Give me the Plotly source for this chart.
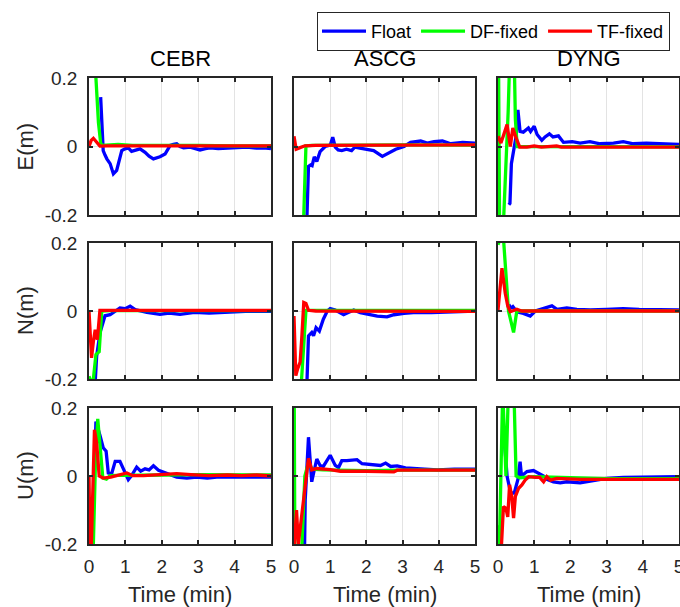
import plotly.graph_objects as go

# ---------------------------------------------------------------- data
stations = ["CEBR", "ASCG", "DYNG"]
components = ["E(m)", "N(m)", "U(m)"]
time_ticks = [0, 1, 2, 3, 4, 5]
pos_ticks = [-0.2, 0, 0.2]
pos_tick_text = ["-0.2", "0", "0.2"]

# East component -------------------------------------------------------
t_E_CEBR_float = [0.32, 0.36, 0.39, 0.44, 0.49, 0.58, 0.67, 0.76, 0.83, 0.90, 0.99, 1.08, 1.17, 1.28, 1.40,
                  1.54, 1.65, 1.77, 1.86, 1.95, 2.09, 2.23, 2.32, 2.41, 2.50, 2.60, 2.78, 2.92, 3.05, 3.20,
                  3.33, 3.55, 3.79, 4.05, 4.34, 4.60, 4.80, 5.00]
E_CEBR_float = [0.144, 0.02, -0.012, -0.025, -0.036, -0.05, -0.08, -0.07, -0.04, -0.012, -0.007, -0.004,
                -0.014, -0.01, -0.007, -0.017, -0.028, -0.036, -0.034, -0.03, -0.022, 0.003, 0.006, 0.008,
                0.0, -0.004, -0.002, -0.006, -0.01, -0.006, -0.004, -0.006, -0.005, -0.003, -0.002, -0.005,
                -0.004, -0.006]
t_E_CEBR_df = [0.12, 0.19, 0.26, 0.32, 0.36, 0.50, 0.80, 1.2, 2.0, 3.0, 4.0, 5.0]
E_CEBR_df = [0.60, 0.20, 0.07, 0.01, 0.003, 0.004, 0.006, 0.003, 0.002, 0.003, 0.002, 0.002]
t_E_CEBR_tf = [0, 0.06, 0.12, 0.20, 0.30, 0.5, 1, 2, 3, 4, 5]
E_CEBR_tf = [0.0, 0.018, 0.024, 0.012, 0.001, 0.002, 0.002, 0.003, 0.002, 0.003, 0.002]

t_E_ASCG_float = [0.33, 0.40, 0.46, 0.50, 0.56, 0.63, 0.72, 0.86, 1.0, 1.07, 1.14, 1.22, 1.32, 1.45, 1.59,
                  1.68, 1.82, 2.0, 2.2, 2.44, 2.63, 2.81, 3.04, 3.22, 3.50, 3.68, 3.87, 4.10, 4.33, 4.66, 5.0]
E_ASCG_float = [-0.3, -0.058, -0.054, -0.056, -0.03, -0.044, -0.015, 0.0, 0.004, 0.027, -0.002, -0.01,
                -0.012, -0.008, -0.012, -0.002, -0.005, -0.008, -0.012, -0.029, -0.018, -0.008, 0.0, 0.012,
                0.016, 0.01, 0.014, 0.016, 0.008, 0.012, 0.01]
t_E_ASCG_df = [0.18, 0.26, 0.30, 0.33, 0.5, 1, 2, 3, 4, 5]
E_ASCG_df = [-0.5, -0.2, -0.05, 0.002, 0.003, 0.004, 0.004, 0.005, 0.004, 0.004]
t_E_ASCG_tf = [0, 0.06, 0.15, 0.3, 0.6, 1, 2, 3, 4, 5]
E_ASCG_tf = [0.03, -0.008, -0.004, 0.002, 0.003, 0.003, 0.004, 0.005, 0.005, 0.005]

t_E_DYNG_float = [0.30, 0.33, 0.37, 0.45, 0.50, 0.55, 0.61, 0.70, 0.84, 0.90, 1.0, 1.08, 1.21, 1.30, 1.42,
                  1.52, 1.67, 1.81, 2.05, 2.27, 2.54, 2.82, 3.19, 3.46, 3.74, 4.1, 4.5, 5.0]
E_DYNG_float = [-0.17, -0.166, -0.05, 0.0, 0.03, 0.107, 0.044, 0.042, 0.054, 0.044, 0.059, 0.035, 0.018,
                0.028, 0.037, 0.028, 0.031, 0.012, 0.014, 0.01, 0.014, 0.008, 0.01, 0.014, 0.008, 0.01,
                0.008, 0.006]
t_E_DYNG_df = [0, 0.03, 0.06, 0.12, 0.2, 0.28, 0.35, 0.40, 0.44, 0.48, 0.53, 0.6, 1, 2, 3, 4, 5]
E_DYNG_df = [0.5, 0.0, -0.5, -0.3, -0.12, 0.1, 0.35, 0.45, 0.3, 0.08, 0.0, 0.0, 0.001, 0.0, -0.001, 0.0,
             -0.001]
t_E_DYNG_tf = [0, 0.08, 0.16, 0.25, 0.34, 0.41, 0.50, 0.60, 0.8, 1.0, 1.2, 1.62, 1.75, 2.5, 3.5, 5.0]
E_DYNG_tf = [0.03, 0.01, 0.035, 0.064, 0.0, 0.054, 0.025, -0.002, -0.002, 0.002, -0.002, 0.002, -0.002,
             -0.002, -0.002, -0.002]

# North component ------------------------------------------------------
t_N_CEBR_float = [0.17, 0.21, 0.30, 0.44, 0.58, 0.72, 0.85, 0.99, 1.13, 1.27, 1.59, 1.95, 2.2, 2.5, 2.9,
                  3.3, 3.8, 4.3, 5.0]
N_CEBR_float = [-0.21, -0.133, -0.065, -0.014, -0.011, 0.0, 0.009, 0.007, 0.014, 0.004, -0.004, -0.01,
                -0.006, -0.01, -0.004, -0.006, -0.004, -0.001, -0.001]
t_N_CEBR_df = [0, 0.06, 0.12, 0.19, 0.28, 0.35, 0.6, 1, 2, 3, 4, 5]
N_CEBR_df = [-0.192, -0.21, -0.2, -0.128, -0.12, 0.0, 0.001, 0.001, 0.001, 0.001, 0.001, 0.001]
t_N_CEBR_tf = [0, 0.07, 0.12, 0.17, 0.23, 0.30, 0.5, 1, 2, 3, 4, 5]
N_CEBR_tf = [0.0, -0.138, -0.09, -0.055, -0.084, 0.002, 0.002, 0.002, 0.002, 0.002, 0.002, 0.002]

t_N_ASCG_float = [0.33, 0.40, 0.49, 0.54, 0.61, 0.70, 0.81, 0.92, 1.0, 1.14, 1.37, 1.65, 1.83, 2.02, 2.3,
                  2.57, 2.76, 3.04, 3.3, 3.8, 4.3, 5.0]
N_ASCG_float = [-0.3, -0.073, -0.063, -0.073, -0.049, -0.059, -0.024, 0.0, 0.007, 0.003, -0.011, 0.003,
                -0.005, -0.01, -0.015, -0.017, -0.011, -0.007, -0.005, -0.005, -0.003, 0.0]
t_N_ASCG_df = [0.15, 0.25, 0.33, 0.6, 1, 2, 3, 4, 5]
N_ASCG_df = [-0.3, -0.15, 0.002, 0.002, 0.002, 0.002, 0.002, 0.002, 0.002]
t_N_ASCG_tf = [0, 0.05, 0.10, 0.17, 0.22, 0.27, 0.33, 0.40, 0.6, 1, 2, 3, 4, 5]
N_ASCG_tf = [-0.015, -0.19, -0.17, -0.15, -0.07, 0.025, 0.022, 0.002, 0.0, 0.0, -0.001, -0.001, -0.001,
             -0.001]

t_N_DYNG_float = [0.30, 0.34, 0.41, 0.52, 0.70, 0.89, 1.03, 1.21, 1.49, 1.63, 1.9, 2.18, 2.55, 3.0, 3.46,
                  3.9, 4.4, 5.0]
N_DYNG_float = [0.02, 0.008, 0.013, -0.002, -0.007, -0.015, 0.0, 0.005, 0.015, 0.005, 0.009, 0.005, 0.003,
                0.005, 0.007, 0.005, 0.005, 0.003]
t_N_DYNG_df = [0, 0.05, 0.10, 0.16, 0.29, 0.36, 0.43, 0.52, 0.7, 1, 2, 3, 4, 5]
N_DYNG_df = [0.195, 0.21, 0.4, 0.2, 0.0, -0.03, -0.063, 0.0, 0.0, 0.0, 0.0, 0.0, 0.0, 0.0]
t_N_DYNG_tf = [0, 0.11, 0.20, 0.27, 0.34, 0.45, 0.52, 0.65, 0.8, 1, 2, 3, 4, 5]
N_DYNG_tf = [0.003, 0.126, 0.052, 0.015, -0.002, 0.003, 0.005, 0.0, 0.0, 0.0, 0.0, 0.0, 0.0, 0.0]

# Up component ---------------------------------------------------------
t_U_CEBR_float = [0.08, 0.19, 0.30, 0.39, 0.47, 0.53, 0.62, 0.72, 0.85, 0.94, 1.08, 1.17, 1.31, 1.42, 1.54,
                  1.65, 1.77, 1.91, 2.05, 2.2, 2.41, 2.69, 2.95, 3.25, 3.51, 3.8, 4.1, 4.5, 5.0]
U_CEBR_float = [-0.25, 0.16, 0.12, 0.083, 0.073, 0.009, 0.006, 0.043, 0.043, 0.022, -0.011, 0.001, 0.026,
                0.014, 0.021, 0.018, 0.03, 0.017, 0.011, 0.004, -0.003, -0.006, -0.003, -0.006, -0.003,
                -0.003, -0.003, -0.005, -0.003]
t_U_CEBR_df = [0, 0.02, 0.07, 0.12, 0.18, 0.24, 0.30, 0.38, 0.48, 0.58, 0.8, 1.2, 2, 3, 4, 5]
U_CEBR_df = [-0.12, -0.25, -0.3, -0.2, 0.05, 0.168, 0.09, -0.006, -0.009, 0.001, 0.002, 0.003, 0.003,
             0.004, 0.003, 0.003]
t_U_CEBR_tf = [0, 0.04, 0.15, 0.21, 0.28, 0.39, 0.6, 0.83, 1.04, 1.2, 1.5, 1.95, 2.41, 2.8, 3.3, 3.8, 4.2,
               4.6, 5.0]
U_CEBR_tf = [0.0, -0.3, 0.136, 0.097, 0.0, -0.006, -0.003, 0.003, 0.009, 0.001, 0.001, 0.004, 0.007, 0.004,
             0.001, 0.003, 0.001, 0.003, 0.0]

t_U_ASCG_float = [0.28, 0.31, 0.40, 0.49, 0.54, 0.63, 0.72, 0.81, 1.0, 1.14, 1.23, 1.32, 1.46, 1.74, 1.88,
                  2.2, 2.39, 2.53, 2.67, 2.85, 3.08, 3.5, 3.96, 4.43, 5.0]
U_ASCG_float = [-0.3, -0.07, 0.114, -0.017, 0.008, 0.05, 0.031, 0.028, 0.061, 0.031, 0.025, 0.045, 0.045,
                0.048, 0.036, 0.034, 0.031, 0.038, 0.028, 0.03, 0.024, 0.021, 0.018, 0.02, 0.02]
t_U_ASCG_df = [0, 0.03, 0.2, 0.30, 0.40, 0.5, 0.8, 1.2, 2, 3, 4, 5]
U_ASCG_df = [0.4, -0.4, -0.25, 0.0, 0.04, 0.02, 0.018, 0.017, 0.016, 0.017, 0.017, 0.017]
t_U_ASCG_tf = [0, 0.07, 0.12, 0.21, 0.31, 0.40, 0.49, 0.63, 1.0, 1.28, 2.0, 2.76, 2.85, 3.5, 4.2, 5.0]
U_ASCG_tf = [-0.22, -0.1, -0.2, -0.12, -0.012, 0.052, 0.018, 0.022, 0.019, 0.014, 0.014, 0.012, 0.017,
             0.017, 0.017, 0.017]

t_U_DYNG_float = [0.18, 0.25, 0.35, 0.45, 0.55, 0.61, 0.65, 0.80, 0.98, 1.12, 1.26, 1.35, 1.53, 1.72, 1.9,
                  2.27, 2.45, 2.63, 3.0, 3.46, 4.0, 4.5, 5.0]
U_DYNG_float = [0.1, 0.0, -0.05, -0.05, -0.01, 0.042, 0.0, 0.013, 0.016, 0.008, 0.0, -0.01, -0.017, -0.02,
                -0.017, -0.02, -0.017, -0.012, -0.007, -0.004, -0.004, -0.004, -0.002]
t_U_DYNG_df = [0, 0.03, 0.13, 0.22, 0.30, 0.38, 0.44, 0.50, 0.6, 1.0, 2, 3, 4, 5]
U_DYNG_df = [-0.145, -0.25, 0.25, 0.0, 0.3, 0.3, 0.25, 0.0, -0.005, -0.002, -0.005, -0.008, -0.008, -0.008]
t_U_DYNG_tf = [0.05, 0.10, 0.15, 0.22, 0.27, 0.32, 0.38, 0.43, 0.48, 0.57, 0.66, 0.75, 0.85, 1.03, 1.15,
               1.26, 1.35, 1.45, 1.62, 2.27, 3.0, 4.0, 5.0]
U_DYNG_tf = [-0.3, -0.2, -0.09, -0.095, -0.12, -0.026, -0.06, -0.124, -0.06, -0.036, -0.026, -0.012,
             -0.002, -0.004, -0.004, -0.017, -0.002, -0.012, -0.007, -0.01, -0.009, -0.01, -0.01]

series_names = ["Float", "DF-fixed", "TF-fixed"]
series_colors = ["#0000ff", "#00ff00", "#ff0000"]

panels = {
    ("E", "CEBR"): [(t_E_CEBR_float, E_CEBR_float), (t_E_CEBR_df, E_CEBR_df), (t_E_CEBR_tf, E_CEBR_tf)],
    ("E", "ASCG"): [(t_E_ASCG_float, E_ASCG_float), (t_E_ASCG_df, E_ASCG_df), (t_E_ASCG_tf, E_ASCG_tf)],
    ("E", "DYNG"): [(t_E_DYNG_float, E_DYNG_float), (t_E_DYNG_df, E_DYNG_df), (t_E_DYNG_tf, E_DYNG_tf)],
    ("N", "CEBR"): [(t_N_CEBR_float, N_CEBR_float), (t_N_CEBR_df, N_CEBR_df), (t_N_CEBR_tf, N_CEBR_tf)],
    ("N", "ASCG"): [(t_N_ASCG_float, N_ASCG_float), (t_N_ASCG_df, N_ASCG_df), (t_N_ASCG_tf, N_ASCG_tf)],
    ("N", "DYNG"): [(t_N_DYNG_float, N_DYNG_float), (t_N_DYNG_df, N_DYNG_df), (t_N_DYNG_tf, N_DYNG_tf)],
    ("U", "CEBR"): [(t_U_CEBR_float, U_CEBR_float), (t_U_CEBR_df, U_CEBR_df), (t_U_CEBR_tf, U_CEBR_tf)],
    ("U", "ASCG"): [(t_U_ASCG_float, U_ASCG_float), (t_U_ASCG_df, U_ASCG_df), (t_U_ASCG_tf, U_ASCG_tf)],
    ("U", "DYNG"): [(t_U_DYNG_float, U_DYNG_float), (t_U_DYNG_df, U_DYNG_df), (t_U_DYNG_tf, U_DYNG_tf)],
}

# ---------------------------------------------------------------- layout geometry (pixels)
W, H = 680, 607
col_px = [(89, 271), (294, 475), (498, 679)]
row_px = [(78, 215), (243, 379), (408, 544)]
FONT = "Liberation Sans, Arial, Helvetica, sans-serif"
AXIS_COLOR = "#262626"

fig = go.Figure()
layout = dict(
    template="none",
    width=W, height=H, margin=dict(l=0, r=0, t=0, b=0, autoexpand=False),
    paper_bgcolor="white", plot_bgcolor="white",
    font=dict(family=FONT, size=19, color=AXIS_COLOR),
    showlegend=True,
    legend=dict(orientation="h", x=670 / W, xanchor="right", y=1 - 12 / H, yanchor="top",
                bordercolor="#262626", borderwidth=1, bgcolor="white",
                font=dict(family=FONT, size=18, color="black"), itemwidth=44,
                tracegroupgap=0),
    annotations=[],
)

comp_keys = ["E", "N", "U"]
idx = 0
for r, comp in enumerate(comp_keys):
    for c, st in enumerate(stations):
        idx += 1
        xa = "x" if idx == 1 else f"x{idx}"
        ya = "y" if idx == 1 else f"y{idx}"
        for k, (tt, vv) in enumerate(panels[(comp, st)]):
            fig.add_trace(go.Scatter(
                x=tt, y=vv, mode="lines", name=series_names[k],
                line=dict(color=series_colors[k], width=3.3),
                xaxis=xa, yaxis=ya, legendgroup=series_names[k],
                showlegend=(idx == 1),
            ))
        x0, x1 = col_px[c]
        y0, y1 = row_px[r]
        axis_common = dict(showline=True, linecolor=AXIS_COLOR, linewidth=1.5, mirror="ticks",
                           ticks="inside", ticklen=4, tickwidth=1.5, tickcolor=AXIS_COLOR,
                           showgrid=True, gridcolor="#e3e3e3", gridwidth=1, zeroline=False,
                           automargin=False, ticklabeloverflow="allow",
                           tickfont=dict(family=FONT, size=19, color=AXIS_COLOR))
        layout["xaxis" if idx == 1 else f"xaxis{idx}"] = dict(
            axis_common, domain=[x0 / W, x1 / W], anchor=ya, range=[0, 5],
            tickvals=time_ticks, showticklabels=(r == 2), ticklabelstandoff=4)
        layout["yaxis" if idx == 1 else f"yaxis{idx}"] = dict(
            axis_common, domain=[1 - y1 / H, 1 - y0 / H], anchor=xa, range=[-0.2, 0.2],
            tickvals=pos_ticks, ticktext=pos_tick_text, showticklabels=(c == 0),
            ticklabelstandoff=6)

# station titles
for c, st in enumerate(stations):
    x0, x1 = col_px[c]
    layout["annotations"].append(dict(
        text=st, x=(x0 + x1) / 2 / W, y=1 - 58 / H, xref="paper", yref="paper",
        xanchor="center", yanchor="middle", showarrow=False,
        font=dict(family=FONT, size=22, color="black")))
# component labels
for r, comp in enumerate(components):
    y0, y1 = row_px[r]
    layout["annotations"].append(dict(
        text=comp, x=25 / W, y=1 - (y0 + y1) / 2 / H, xref="paper", yref="paper",
        xanchor="center", yanchor="middle", textangle=-90, showarrow=False,
        font=dict(family=FONT, size=22, color=AXIS_COLOR)))
# time axis labels
for c in range(3):
    x0, x1 = col_px[c]
    layout["annotations"].append(dict(
        text="Time (min)", x=(x0 + x1) / 2 / W, y=1 - 594 / H, xref="paper", yref="paper",
        xanchor="center", yanchor="middle", showarrow=False,
        font=dict(family=FONT, size=22, color=AXIS_COLOR)))

fig.update_layout(**layout)
fig.write_html("out.html")
